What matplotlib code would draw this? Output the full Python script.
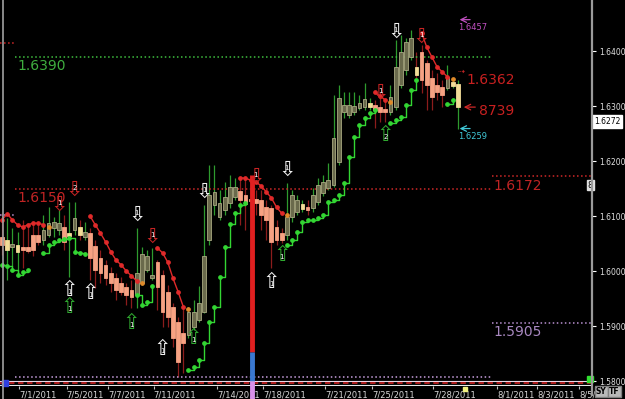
import numpy as np
import matplotlib
matplotlib.use("Agg")
import matplotlib.pyplot as plt
from matplotlib.lines import Line2D

# ---- candles (4h bars) ----
opens = [1.6062, 1.6038, 1.6044, 1.6035, 1.6044, 1.6044, 1.6065, 1.6065, 1.6056, 1.6065,
         1.6078, 1.6075, 1.6080, 1.6064, 1.6075, 1.6080, 1.6062, 1.6069, 1.6045, 1.6024,
         1.6011, 1.5996, 1.5987, 1.5978, 1.5971, 1.5966, 1.5956, 1.5978, 1.6002, 1.5987,
         1.6016, 1.5993, 1.5962, 1.5935, 1.5907, 1.5887, 1.5884, 1.5898, 1.5911, 1.5926,
         1.6056, 1.6120, 1.6098, 1.6111, 1.6124, 1.6135, 1.6146, 1.6138, 1.6131, 1.6131,
         1.6129, 1.6116, 1.6115, 1.6080, 1.6069, 1.6065, 1.6098, 1.6107, 1.6113, 1.6116,
         1.6115, 1.6125, 1.6142, 1.6151, 1.6156, 1.6198, 1.6289, 1.6284, 1.6289, 1.6296,
         1.6298, 1.6298, 1.6302, 1.6298, 1.6294, 1.6289, 1.6298, 1.6338, 1.6365, 1.6389,
         1.6371, 1.6398, 1.6378, 1.6351, 1.6338, 1.6334, 1.6333, 1.6336, 1.6298]
highs = [1.6105, 1.6096, 1.6078, 1.6071, 1.6093, 1.6084, 1.6087, 1.6084, 1.6102, 1.6116,
         1.6098, 1.6111, 1.6102, 1.6125, 1.6125, 1.6093, 1.6089, 1.6078, 1.6056, 1.6038,
         1.6020, 1.6007, 1.5996, 1.5989, 1.5978, 1.5984, 1.6078, 1.6044, 1.6038, 1.6042,
         1.6020, 1.6002, 1.5975, 1.5942, 1.5917, 1.5935, 1.5935, 1.5947, 1.5973, 1.6120,
         1.6193, 1.6193, 1.6147, 1.6162, 1.6175, 1.6169, 1.6169, 1.6169, 1.6156, 1.6147,
         1.6147, 1.6129, 1.6120, 1.6093, 1.6078, 1.6160, 1.6147, 1.6138, 1.6129, 1.6129,
         1.6151, 1.6169, 1.6175, 1.6196, 1.6320, 1.6338, 1.6325, 1.6325, 1.6325, 1.6320,
         1.6342, 1.6315, 1.6311, 1.6325, 1.6311, 1.6338, 1.6420, 1.6429, 1.6424, 1.6438,
         1.6398, 1.6411, 1.6384, 1.6365, 1.6360, 1.6347, 1.6374, 1.6347, 1.6347]
lows = [1.6029, 1.5984, 1.6007, 1.5993, 1.6005, 1.6033, 1.6027, 1.6047, 1.6047, 1.6062,
        1.6062, 1.6065, 1.6038, 1.5989, 1.6065, 1.6056, 1.6056, 1.5984, 1.5969, 1.5978,
        1.5975, 1.5962, 1.5947, 1.5956, 1.5938, 1.5933, 1.5933, 1.5975, 1.5998, 1.5984,
        1.5929, 1.5898, 1.5898, 1.5862, 1.5807, 1.5815, 1.5878, 1.5893, 1.5907, 1.5924,
        1.6047, 1.6102, 1.6093, 1.6102, 1.6115, 1.6129, 1.6084, 1.6075, 1.6111, 1.6102,
        1.6075, 1.6056, 1.6005, 1.6047, 1.6051, 1.6056, 1.6089, 1.6102, 1.6107, 1.6102,
        1.6107, 1.6120, 1.6136, 1.6147, 1.6153, 1.6193, 1.6278, 1.6278, 1.6284, 1.6293,
        1.6293, 1.6293, 1.6260, 1.6271, 1.6271, 1.6284, 1.6293, 1.6333, 1.6356, 1.6384,
        1.6351, 1.6324, 1.6293, 1.6293, 1.6311, 1.6298, 1.6329, 1.6333, 1.6259]
closes = [1.6047, 1.6056, 1.6049, 1.6047, 1.6038, 1.6036, 1.6038, 1.6053, 1.6075, 1.6087,
          1.6089, 1.6087, 1.6053, 1.6069, 1.6096, 1.6065, 1.6071, 1.6024, 1.6002, 1.5996,
          1.5987, 1.5978, 1.5966, 1.5962, 1.5956, 1.5953, 1.5996, 1.6031, 1.6027, 1.5993,
          1.5971, 1.5926, 1.5917, 1.5878, 1.5835, 1.5869, 1.5926, 1.5926, 1.5942, 1.6027,
          1.6138, 1.6144, 1.6124, 1.6135, 1.6153, 1.6153, 1.6129, 1.6122, 1.6127, 1.6124,
          1.6102, 1.6093, 1.6053, 1.6056, 1.6056, 1.6098, 1.6138, 1.6129, 1.6122, 1.6111,
          1.6138, 1.6156, 1.6162, 1.6165, 1.6242, 1.6315, 1.6302, 1.6302, 1.6300, 1.6305,
          1.6313, 1.6305, 1.6293, 1.6289, 1.6289, 1.6316, 1.6371, 1.6398, 1.6416, 1.6424,
          1.6356, 1.6347, 1.6338, 1.6316, 1.6325, 1.6320, 1.6353, 1.6344, 1.6340]
yellow_bars = [1, 3, 13, 15, 58, 71, 80, 87, 88]

# trailing stops: (first bar, values)
green_stop = [
    (0, [1.6011, 1.6009, 1.6002, 1.5993, 1.5998, 1.6002]),
    (8, [1.6033, 1.6047, 1.6053, 1.6056, 1.6058, 1.6060, 1.6035, 1.6033, 1.6031]),
    (26, [1.5956, 1.5938, 1.5944, 1.5973]),
    (36, [1.5820, 1.5826, 1.5838, 1.5869, 1.5907, 1.5935, 1.5989, 1.6044, 1.6085,
          1.6105, 1.6120, 1.6124]),
    (55, [1.6047, 1.6056, 1.6071, 1.6089, 1.6093, 1.6093, 1.6096, 1.6102, 1.6125,
          1.6129, 1.6138, 1.6160, 1.6207, 1.6244, 1.6266, 1.6278, 1.6287, 1.6293]),
    (75, [1.6269, 1.6275, 1.6280, 1.6302, 1.6329, 1.6347]),
    (86, [1.6304, 1.6311]),
]
red_stop = [
    (0, [1.6093, 1.6104, 1.6093, 1.6084, 1.6080, 1.6084, 1.6087, 1.6087, 1.6084]),
    (17, [1.6100, 1.6084, 1.6069, 1.6053, 1.6035, 1.6020, 1.6011, 1.6000, 1.5991, 1.5982]),
    (30, [1.6042, 1.6033, 1.6016, 1.5987, 1.5962, 1.5935]),
    (46, [1.6169, 1.6169, 1.6165, 1.6162, 1.6155, 1.6144, 1.6133, 1.6116, 1.6105]),
    (72, [1.6325, 1.6318, 1.6311]),
    (81, [1.6433, 1.6407, 1.6389, 1.6371, 1.6362, 1.6353]),
]

# signal arrows
arrow_x = [14, 39, 11, 26, 29, 13, 17, 31, 52, 13, 25, 37, 54, 74, 55, 76, 49, 73, 81]
arrow_y = [1.6147, 1.6144, 1.6120, 1.6102, 1.6062, 1.5966, 1.5960, 1.5858, 1.5980, 1.5935,
           1.5905, 1.5878, 1.6029, 1.6247, 1.6184, 1.6435, 1.6171, 1.6324, 1.6425]
arrow_dir = ['d', 'd', 'd', 'd', 'd', 'u', 'u', 'u', 'u', 'u',
             'u', 'u', 'u', 'u', 'd', 'd', 'd', 'd', 'd']
arrow_col = ['r', 'w', 'r', 'w', 'r', 'w', 'w', 'w', 'w', 'g',
             'g', 'g', 'g', 'g', 'w', 'w', 'r', 'r', 'r']
arrow_num = ['2', '1', '1', '1', '1', '1', '1', '1', '1', '1',
             '1', '1', '1', '2', '1', '1', '1', '1', '1']

date_ticks = [3.3, 12.5, 20.5, 29.3, 41.5, 50.4, 62.4, 71.4, 83.2, 95.6, 103.3, 111.4]
date_labels = ['7/1/2011', '7/5/2011', '7/7/2011', '7/11/2011', '7/14/2011', '7/18/2011',
               '7/21/2011', '7/25/2011', '7/28/2011', '8/1/2011', '8/3/2011', '8/5/2011']
price_ticks = [1.5800, 1.5900, 1.6000, 1.6100, 1.6200, 1.6300, 1.6400]

level_left = [1.6390, 1.6150]
level_right = [1.6172, 1.5905]
last_price = 1.6272
time_marker = 48.3

fig = plt.figure(figsize=(6.25, 3.99), dpi=100, facecolor='black')
ax = fig.add_axes([0, 13 / 399, 592 / 625, 386 / 399])
ax.set_facecolor('black')
ax.set_xlim(-0.386, 113.9)
ax.set_ylim(1.579091, 1.649273)
for s in ax.spines.values():
    s.set_visible(False)

# candles
x = np.arange(len(opens))
for i in x:
    o, h, l, c = opens[i], highs[i], lows[i], closes[i]
    up = c >= o
    if i in yellow_bars:
        body, edge = '#f2dc98', '#f2dc98'
    elif up:
        body, edge = '#6a6a4c', '#a9a982'
    else:
        body, edge = '#f6a283', '#f6a283'
    wick = '#2e9b2e' if up else '#8c1c1c'
    ax.vlines(i, l, h, color=wick, lw=0.9, zorder=2)
    ax.bar(i, max(abs(c - o), 0.00005), bottom=min(o, c), width=0.72,
           color=body, edgecolor=edge, lw=0.6, zorder=3)

for start, vals in green_stop:
    xs = np.arange(start, start + len(vals))
    ax.plot(xs, vals, drawstyle='steps-post', color='#33d633', lw=1.0, zorder=4)
    ax.plot(xs, vals, 'o', ms=2.4, color='#33d633', zorder=4)
for start, vals in red_stop:
    xs = np.arange(start, start + len(vals))
    ax.plot(xs, vals, color='#e02a2a', lw=1.0, zorder=4)
    ax.plot(xs, vals, 'o', ms=2.4, color='#e02a2a', zorder=4)
    ax.plot(xs[-1] + 1, vals[-1] - 0.0004, 'o', ms=2.4, color='#e08a2a', zorder=4)

# levels
ax.hlines(level_left[0], 2.5, 94.6, colors='#3fbf3f', linestyles=':', lw=1.1)
ax.hlines(level_left[1], 2.5, 94.6, colors='#d02828', linestyles=':', lw=1.1)
ax.hlines(level_right[0], 94.6, 113.9, colors='#d02828', linestyles=':', lw=1.1)
ax.hlines(level_right[1], 94.6, 113.9, colors='#b890d0', linestyles=':', lw=1.1)
ax.hlines(1.6414, -0.4, 2.5, colors='#d02828', linestyles=':', lw=1.1)
ax.hlines(1.6102, -0.4, 2.5, colors='#b890d0', linestyles=':', lw=1.1)
ax.hlines(1.5807, 2.5, 94.6, colors='#c8a0e0', linestyles=':', lw=1.1)
ax.text(2.9, level_left[0] - 0.0004, '%.4f' % level_left[0], color='#3fae3f', fontsize=10, va='top')
ax.text(2.9, level_left[1] - 0.0004, '%.4f' % level_left[1], color='#c02424', fontsize=10, va='top')
ax.text(94.8, level_right[0] - 0.0004, '%.4f' % level_right[0], color='#c02424', fontsize=10, va='top')
ax.text(94.8, level_right[1] - 0.0004, '%.4f' % level_right[1], color='#a888c0', fontsize=10, va='top')

# bottom strip
ax.axhline(1.5800, color='#e8d8e8', lw=0.8)
ax.axhline(1.57955, color='#c02020', lw=1.3, ls=(0, (3, 2)))
ax.axhline(1.5792, color='#e8e8e8', lw=0.8)

# time marker
ax.vlines(time_marker, 1.5852, 1.6175, color='#e02020', lw=3.5, zorder=5)
ax.vlines(time_marker, 1.5800, 1.5852, color='#3a78d0', lw=3.5, zorder=5)
ax.vlines(time_marker, 1.5767, 1.5800, color='#d890e8', lw=3.5, zorder=5, clip_on=False)

# arrows
cols = {'w': '#f0f0f0', 'g': '#2fa82f', 'r': '#c82424'}
for ax_, ay, d, c, n in zip(arrow_x, arrow_y, arrow_dir, arrow_col, arrow_num):
    glyph = '\u21e9' if d == 'd' else '\u21e7'
    ax.text(ax_, ay, glyph, color=cols[c], fontsize=15, ha='center', va='center', zorder=6)
    off = 0.0004 if d == 'd' else -0.0004
    ax.text(ax_, ay + off, n, color='white', fontsize=5, ha='center', va='center', zorder=7)

# right side annotations
ax.annotate('', xy=(87.8, 1.6457), xytext=(90.9, 1.6457),
            arrowprops=dict(arrowstyle='->', color='#c050c0', lw=0.9))
ax.text(88.0, 1.6451, '1.6457', color='#c050c0', fontsize=6, va='top')
ax.text(87.9, 1.6364, '\u21e2', color='#d02828', fontsize=6, va='center')
ax.text(89.6, 1.6348, '1.6362', color='#c82020', fontsize=10, va='center')
ax.annotate('', xy=(88.6, 1.6298), xytext=(91.9, 1.6298),
            arrowprops=dict(arrowstyle='->', color='#d02828', lw=0.9))
ax.text(92.0, 1.6291, '8739', color='#c82020', fontsize=10, va='center')
ax.annotate('', xy=(87.8, 1.6259), xytext=(90.9, 1.6259),
            arrowprops=dict(arrowstyle='->', color='#40c8d8', lw=0.9))
ax.text(88.0, 1.6253, '1.6259', color='#40c8d8', fontsize=6, va='top')

# axes ticks
ax.yaxis.tick_right()
ax.set_yticks(price_ticks, ['%.4f' % p for p in price_ticks])
ax.tick_params(axis='y', colors='white', labelcolor='#e0e0e0', labelsize=5.5,
               length=3, width=0.8, pad=2)
ax.set_xticks(date_ticks, date_labels)
ax.tick_params(axis='x', colors='#c0c0c0', labelcolor='#d8d8d8', labelsize=6,
               length=2, width=0.8, pad=1)
for lbl in ax.get_xticklabels():
    lbl.set_ha('left')

ax.text(1.003, last_price, '%.4f' % last_price, transform=ax.get_yaxis_transform(),
        color='black', fontsize=5.5, va='center', ha='left',
        bbox=dict(facecolor='white', edgecolor='white', pad=1.2))
ax.text(0.997, 1.6156, '8', transform=ax.get_yaxis_transform(), color='black', fontsize=6,
        va='center', ha='center', bbox=dict(facecolor='#e0e0e0', edgecolor='#e0e0e0', pad=0.5))
ax.plot(0.997, 1.5804, 's', ms=5, color='#30e030', transform=ax.get_yaxis_transform(),
        clip_on=False)
ax.plot(0.008, 1.5796, 's', ms=4, color='#3040e0', transform=ax.get_yaxis_transform(),
        clip_on=False)
ax.plot(89.3, 1.5785, 's', ms=2.5, color='#f0f080', clip_on=False)

# frame lines
fig.add_artist(Line2D([3 / 625, 3 / 625], [0, 1], color='#a0a0a0', lw=1.2))
fig.add_artist(Line2D([592 / 625, 592 / 625], [4 / 399, 1], color='#9a9a9a', lw=1.6))
fig.text(596 / 625, 5 / 399, 'SY', fontsize=5.5, color='black', fontweight='bold',
         bbox=dict(facecolor='#b8b8b8', edgecolor='#808080', pad=1))
fig.text(609 / 625, 5 / 399, 'TF', fontsize=5.5, color='black', fontweight='bold',
         bbox=dict(facecolor='#b8b8b8', edgecolor='#808080', pad=1))

fig.savefig('out.png', dpi=100, facecolor='black')
